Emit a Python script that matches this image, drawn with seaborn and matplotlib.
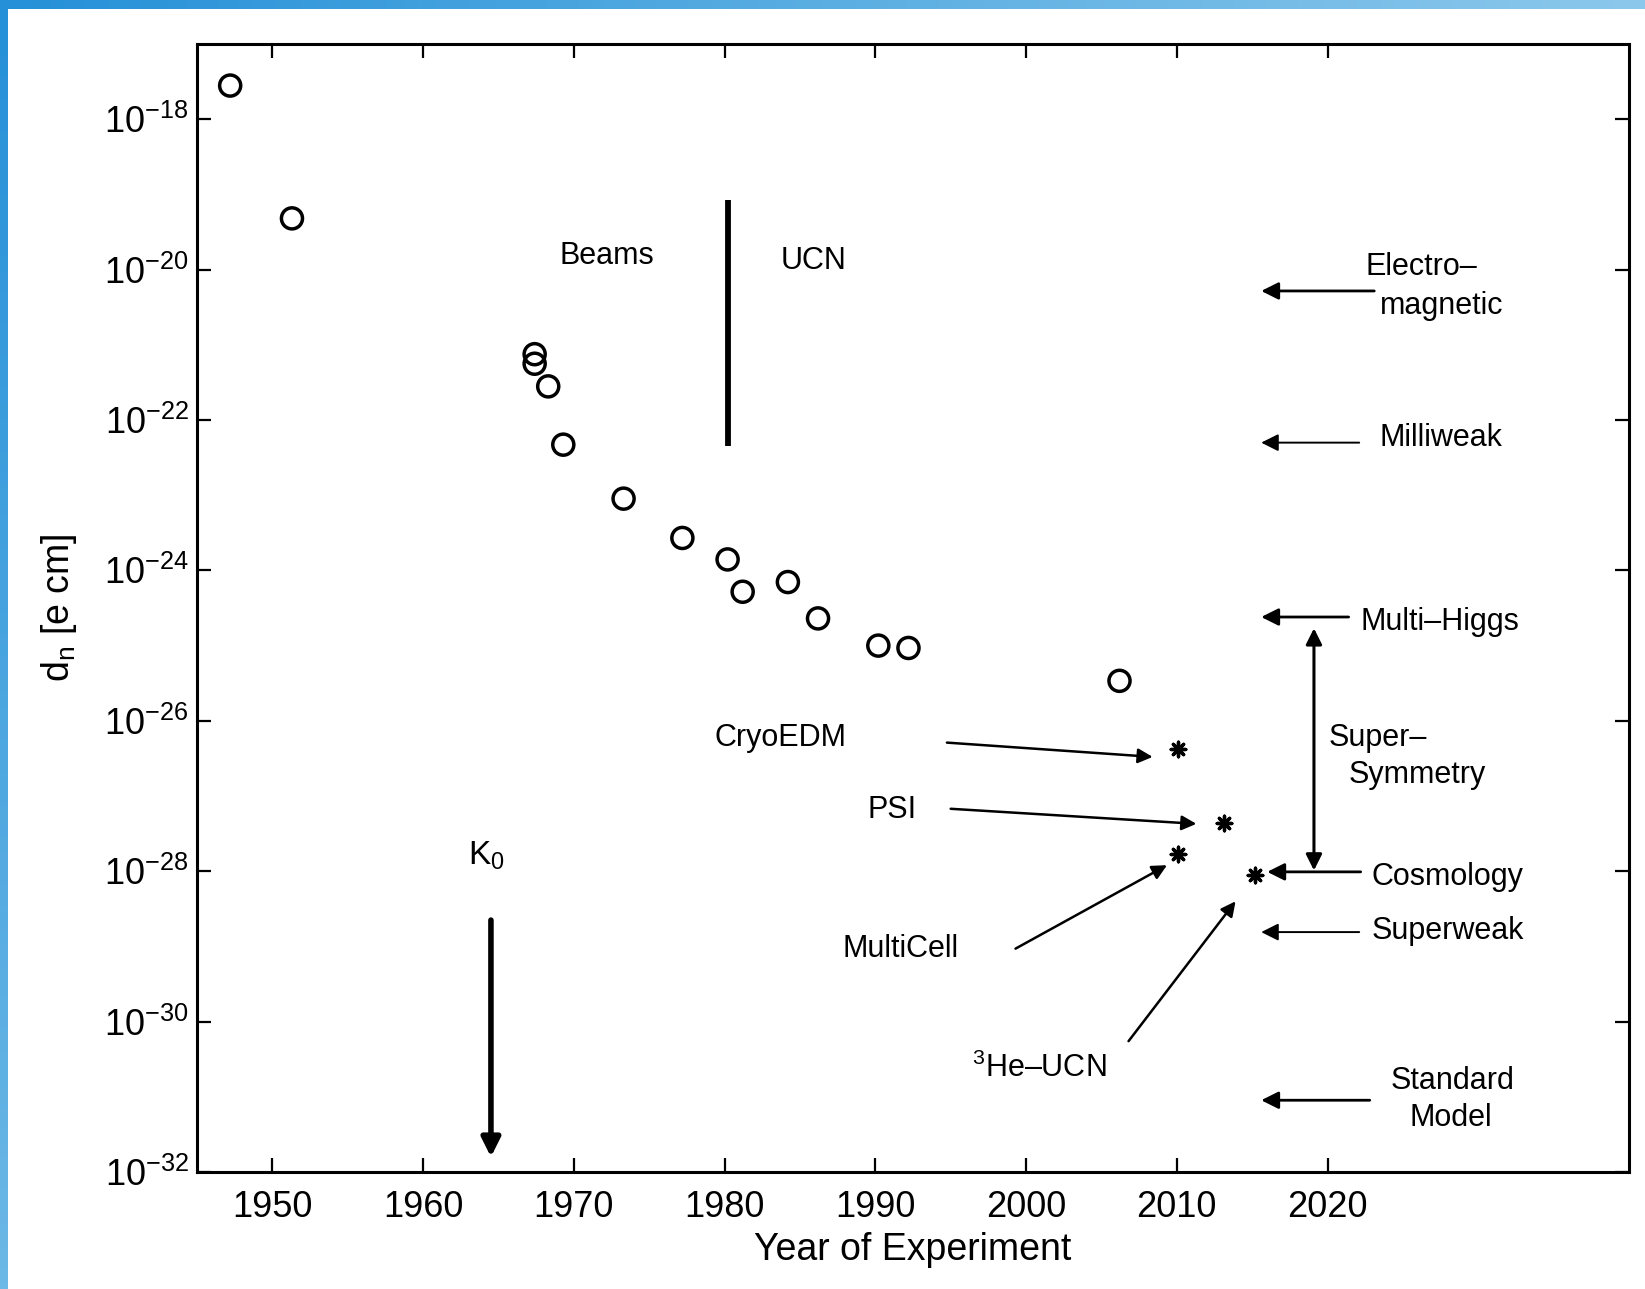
import numpy as np
import pandas as pd
import matplotlib
matplotlib.use("Agg")
import matplotlib.pyplot as plt
import seaborn as sns
from matplotlib.colors import LinearSegmentedColormap

# ---------------- data ----------------
circle_years = [1947.2, 1951.3, 1967.4, 1967.4, 1968.3, 1969.3, 1973.3, 1977.2,
                1980.2, 1981.2, 1984.2, 1986.2, 1990.2, 1992.2, 2006.2]
circle_dn = [2.8e-18, 4.8e-20, 7.5e-22, 5.6e-22, 2.8e-22, 4.7e-23, 9.0e-24, 2.7e-24,
             1.4e-24, 5.2e-25, 7.0e-25, 2.3e-25, 1.0e-25, 9.3e-26, 3.4e-26]

star_names = ["CryoEDM", "PSI", "MultiCell", "3He-UCN"]
star_years = [2010.1, 2013.1, 2010.1, 2015.2]
star_dn = [4.2e-27, 4.4e-28, 1.7e-28, 9.0e-29]

theory_names = ["Electro-magnetic", "Milliweak", "Multi-Higgs", "Cosmology",
                "Superweak", "Standard Model"]
theory_dn = [5.2e-21, 5.0e-23, 2.4e-25, 9.8e-29, 1.55e-29, 9.0e-32]

x_ticks = [1950, 1960, 1970, 1980, 1990, 2000, 2010, 2020]
y_exponents = [-32, -30, -28, -26, -24, -22, -20, -18]

# ---------------- style ----------------
sns.set_style("ticks")
plt.rcParams["font.family"] = ["Liberation Sans", "DejaVu Sans"]
plt.rcParams["mathtext.fontset"] = "custom"
plt.rcParams["mathtext.rm"] = "Liberation Sans"
plt.rcParams["mathtext.it"] = "Liberation Sans"
plt.rcParams["mathtext.bf"] = "Liberation Sans:bold"
plt.rcParams["text.color"] = "black"
plt.rcParams["axes.labelcolor"] = "black"
plt.rcParams["xtick.color"] = "black"
plt.rcParams["ytick.color"] = "black"

W, H = 1645, 1289
fig = plt.figure(figsize=(W / 100, H / 100), dpi=100)
fig.patch.set_facecolor("white")

# decorative blue frame strips (left and top)
bl = fig.add_axes([0, 0, 8 / W, 1])
grad_v = np.linspace(0, 1, 256).reshape(-1, 1)
cm_v = LinearSegmentedColormap.from_list("bv", ["#2590d8", "#6cb8e6"])
bl.imshow(grad_v, aspect="auto", cmap=cm_v, extent=[0, 1, 0, 1], origin="upper")
bl.set_axis_off()
bt = fig.add_axes([0, 1 - 9 / H, 1, 9 / H])
grad_h = np.linspace(0, 1, 256).reshape(1, -1)
cm_h = LinearSegmentedColormap.from_list("bh", ["#2590d8", "#5aaee2", "#8cc8ec"])
bt.imshow(grad_h, aspect="auto", cmap=cm_h, extent=[0, 1, 0, 1])
bt.set_axis_off()

ax = fig.add_axes([197 / W, 1 - 1172 / H, (1629 - 197) / W, (1172 - 44) / H])

df_c = pd.DataFrame({"year": circle_years, "dn": circle_dn})
df_s = pd.DataFrame({"year": star_years, "dn": star_dn, "name": star_names})

sns.scatterplot(data=df_c, x="year", y="dn", ax=ax, marker="o", s=230,
                facecolors="none", edgecolor="black", linewidth=2.5, zorder=3)
sns.scatterplot(data=df_s, x="year", y="dn", ax=ax, marker=(8, 2, 0), s=110,
                color="black", edgecolor="black", linewidth=2.4, zorder=3)

ax.set_yscale("log")
ax.set_xlim(1945, 2040)
ax.set_ylim(1e-32, 1e-17)

ax.set_xticks(x_ticks)
ax.set_xticklabels([str(v) for v in x_ticks])
ax.set_yticks([10.0 ** e for e in y_exponents])
ax.set_yticklabels([r"$\mathregular{10^{%d}}$" % e for e in y_exponents])
ax.yaxis.set_minor_locator(matplotlib.ticker.NullLocator())
ax.xaxis.set_minor_locator(matplotlib.ticker.NullLocator())
ax.tick_params(axis="both", which="major", direction="in", length=10, width=1.6,
               top=True, right=True, labelsize=26, colors="black")
ax.tick_params(axis="x", pad=13)
ax.tick_params(axis="y", pad=6)
for sp in ax.spines.values():
    sp.set_linewidth(2.2)
    sp.set_color("black")

ax.set_xlabel("Year of Experiment", fontsize=27, labelpad=5)
ax.set_ylabel(r"d$_\mathregular{n}$ [e cm]", fontsize=27, labelpad=18)

fs = 22
# Beams / UCN divider
ax.plot([1980.2, 1980.2], [10 ** -19.08, 10 ** -22.35], color="black", lw=4.2,
        solid_capstyle="butt")
ax.text(1972.2, 10 ** -19.82, "Beams", fontsize=fs, ha="center", va="center")
ax.text(1985.9, 10 ** -19.89, "UCN", fontsize=fs, ha="center", va="center")

# K0 arrow
ax.text(1964.2, 10 ** -27.8, r"K$_\mathregular{0}$", fontsize=fs + 2, ha="center",
        va="center")
ax.annotate("", xy=(1964.5, 10 ** -31.8), xytext=(1964.5, 10 ** -28.65),
            arrowprops=dict(arrowstyle="-|>", lw=4.0, color="black",
                            mutation_scale=28, shrinkA=0, shrinkB=0))

# experiment labels with arrows
arrow_kw = dict(arrowstyle="-|>", lw=1.8, color="black", mutation_scale=22,
                shrinkA=0, shrinkB=0)
ax.text(1983.7, 10 ** -26.23, "CryoEDM", fontsize=fs, ha="center", va="center")
ax.annotate("", xy=(2008.4, 10 ** -26.48), xytext=(1994.75, 10 ** -26.29),
            arrowprops=arrow_kw)
ax.text(1991.1, 10 ** -27.19, "PSI", fontsize=fs, ha="center", va="center")
ax.annotate("", xy=(2011.3, 10 ** -27.37), xytext=(1995.0, 10 ** -27.17),
            arrowprops=arrow_kw)
ax.text(1991.7, 10 ** -29.03, "MultiCell", fontsize=fs, ha="center", va="center")
ax.annotate("", xy=(2009.35, 10 ** -27.92), xytext=(1999.3, 10 ** -29.03),
            arrowprops=arrow_kw)
ax.text(2000.9, 10 ** -30.62, r"$\mathregular{^3}$He–UCN", fontsize=fs,
        ha="center", va="center")
ax.annotate("", xy=(2013.9, 10 ** -28.40), xytext=(2006.8, 10 ** -30.26),
            arrowprops=arrow_kw)

# theory predictions on the right
th_kw = dict(arrowstyle="-|>", lw=2.0, color="black", mutation_scale=26,
             shrinkA=0, shrinkB=0)
th_dash_kw = dict(th_kw, lw=1.4)
x_head = 2015.6
ax.annotate("", xy=(x_head, theory_dn[0]), xytext=(2023.1, theory_dn[0]),
            arrowprops=th_kw)
ax.text(2022.5, 10 ** -19.97, "Electro–", fontsize=fs, ha="left", va="center")
ax.text(2023.5, 10 ** -20.48, "magnetic", fontsize=fs, ha="left", va="center")

ax.annotate("", xy=(x_head, theory_dn[1]), xytext=(2022.1, theory_dn[1]),
            arrowprops=th_dash_kw)
ax.text(2023.45, 10 ** -22.24, "Milliweak", fontsize=fs, ha="left", va="center")

ax.annotate("", xy=(x_head, theory_dn[2]), xytext=(2021.4, theory_dn[2]),
            arrowprops=th_kw)
ax.text(2022.2, 10 ** -24.68, "Multi–Higgs", fontsize=fs, ha="left", va="center")

ax.annotate("", xy=(2019.1, 10 ** -24.77), xytext=(2019.1, 10 ** -27.99),
            arrowprops=dict(arrowstyle="<|-|>", lw=2.2, color="black",
                            mutation_scale=24, shrinkA=0, shrinkB=0))
ax.text(2020.1, 10 ** -26.23, "Super–", fontsize=fs, ha="left", va="center")
ax.text(2021.4, 10 ** -26.72, "Symmetry", fontsize=fs, ha="left", va="center")

ax.annotate("", xy=(2016.0, theory_dn[3]), xytext=(2022.2, theory_dn[3]),
            arrowprops=th_kw)
ax.text(2022.9, 10 ** -28.08, "Cosmology", fontsize=fs, ha="left", va="center")

ax.annotate("", xy=(x_head, theory_dn[4]), xytext=(2022.1, theory_dn[4]),
            arrowprops=th_dash_kw)
ax.text(2022.9, 10 ** -28.80, "Superweak", fontsize=fs, ha="left", va="center")

ax.annotate("", xy=(x_head, theory_dn[5]), xytext=(2022.8, theory_dn[5]),
            arrowprops=th_kw)
ax.text(2028.3, 10 ** -30.79, "Standard", fontsize=fs, ha="center", va="center")
ax.text(2028.2, 10 ** -31.28, "Model", fontsize=fs, ha="center", va="center")

fig.savefig("out.png", dpi=100, facecolor="white")
